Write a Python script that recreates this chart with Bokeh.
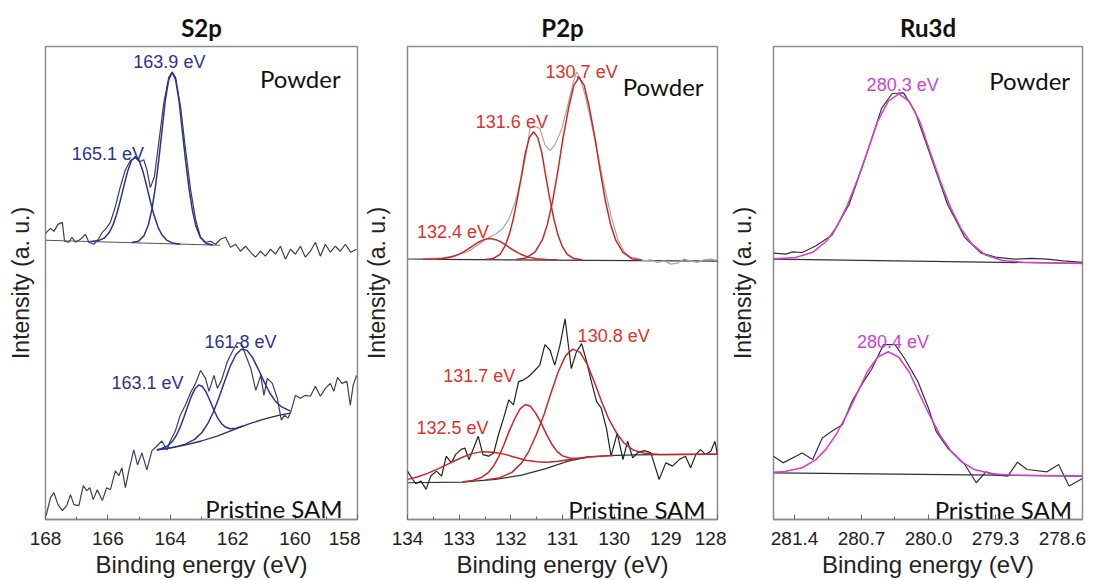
from bokeh.plotting import figure
from bokeh.layouts import row
from bokeh.models import Range1d, FixedTicker, Label, PrintfTickFormatter
from bokeh.embed import file_html
from bokeh.resources import INLINE

# ---------------- S2p ----------------
s2p_ticks = [168, 166, 164, 162, 160, 158]
s2p_minor = [167, 165, 163, 161, 159]

s2p_top_raw_e = [168.00,167.84,167.73,167.60,167.46,167.39,167.25,167.15,167.04,166.88,166.72,166.61,166.45,166.29,166.18,166.08,165.92,165.76,165.60,165.44,165.28,165.12,164.98,164.85,164.75,164.64,164.51,164.37,164.21,164.05,163.94,163.83,163.67,163.51,163.35,163.19,163.03,162.87,162.71,162.55,162.39,162.23,162.07,161.91,161.75,161.59,161.43,161.27,161.11,160.95,160.79,160.63,160.47,160.31,160.15,159.99,159.83,159.67,159.51,159.35,159.19,159.03,158.87,158.71,158.55,158.39,158.22,158.03]
s2p_top_raw_y = [286,291,288,295,297,278,277,282,277,280,285,277,275,281,287,290,297,313,333,350,359,362,358,360,350,332,343,377,417,443,448,443,413,370,330,300,282,277,278,275,280,282,272,275,268,273,267,262,268,263,270,265,273,260,270,265,273,262,268,277,263,275,267,273,268,275,267,270]
s2p_top_base_e = [168.0, 162.4]
s2p_top_base_y = [279, 274]
s2p_top_fit_1639_e = [165.24,165.02,164.84,164.70,164.59,164.48,164.37,164.26,164.16,164.05,163.94,163.83,163.72,163.62,163.51,163.40,163.29,163.18,163.04,162.86,162.64]
s2p_top_fit_1639_y = [276.7,278.1,283.7,294.9,310.1,331.9,359.9,390.9,419.9,440.7,448.2,440.5,419.5,390.3,359.1,330.9,308.9,293.5,282.0,276.1,274.3]
s2p_top_fit_1651_e = [166.56,166.32,166.12,165.96,165.84,165.72,165.60,165.48,165.36,165.24,165.12,165.00,164.88,164.76,164.64,164.52,164.40,164.28,164.12,163.92,163.68]
s2p_top_fit_1651_y = [277.7,278.4,281.1,286.7,294.2,305.2,319.2,334.7,349.1,359.6,363.3,359.4,348.7,334.0,318.3,304.1,292.8,285.1,279.2,276.2,275.1]

s2p_bot_raw_e = [167.98,167.84,167.73,167.60,167.46,167.32,167.20,167.09,166.93,166.79,166.68,166.58,166.47,166.34,166.18,166.04,165.92,165.76,165.65,165.55,165.44,165.33,165.17,165.05,164.91,164.75,164.59,164.43,164.27,164.11,164.00,163.84,163.68,163.52,163.36,163.19,163.03,162.87,162.76,162.60,162.49,162.36,162.17,162.01,161.85,161.72,161.58,161.42,161.26,161.10,161.00,160.89,160.73,160.57,160.44,160.34,160.23,160.13,159.99,159.83,159.67,159.51,159.35,159.19,159.03,158.87,158.76,158.64,158.50,158.34,158.23,158.14,158.03]
s2p_bot_raw_y = [2,20,25,13,7,12,23,13,12,32,27,30,18,28,17,30,28,47,42,50,30,47,68,53,65,48,67,72,77,68,77,87,103,113,125,135,148,140,127,143,130,138,157,167,176,175,163,150,128,143,123,140,135,120,98,103,100,107,123,120,123,122,132,122,130,135,127,141,135,137,113,133,143]
s2p_bot_base_e = [164.43,164.00,163.50,163.00,162.50,162.00,161.50,161.00,160.50,160.15]
s2p_bot_base_y = [68,70,73,77,82,88,94,99,103,105]
s2p_bot_fit_1631_e = [164.43,164.29,164.09,163.93,163.81,163.69,163.57,163.45,163.33,163.21,163.09,162.97,162.85,162.73,162.61,162.49,162.37,162.25,162.09,161.89,161.65]
s2p_bot_fit_1631_y = [68.2,69.3,72.1,76.7,82.5,90.4,100.4,111.3,121.6,129.5,133.3,131.8,126.1,117.7,108.7,100.6,94.9,91.3,89.4,89.9,92.3]
s2p_bot_fit_1618_e = [164.43,163.88,163.52,163.22,162.98,162.80,162.62,162.44,162.26,162.08,161.90,161.72,161.54,161.36,161.18,161.00,160.82,160.64,160.46,160.22,160.15]
s2p_bot_fit_1618_y = [68.0,70.6,73.8,78.6,85.8,94.4,106.2,120.7,136.9,152.2,163.8,169.4,168.2,160.7,149.4,137.0,125.8,117.3,111.9,108.0,107.5]

# ---------------- P2p ----------------
p2p_ticks = [134, 133, 132, 131, 130, 129, 128]
p2p_minor = [133.5, 132.5, 131.5, 130.5, 129.5, 128.5]

p2p_top_raw_e = [134.00,133.58,133.33,133.07,132.81,132.62,132.43,132.30,132.17,132.04,131.92,131.79,131.69,131.63,131.53,131.44,131.34,131.24,131.15,131.02,130.89,130.79,130.73,130.67,130.57,130.44,130.31,130.19,130.06,129.93,129.80,129.67,129.54,129.42,129.29,129.16,129.03,128.90,128.78,128.65,128.52,128.39,128.26,128.13,128.02]
p2p_top_raw_y = [260.0,260.7,261.3,263.3,268.3,275.0,281.7,285.0,290.0,300.0,316.7,343.3,370.0,391.7,393.3,391.7,375.0,369.3,375.0,390.0,416.7,438.3,448.3,443.3,426.7,396.7,363.3,333.3,303.3,280.0,266.7,261.7,260.7,258.3,259.3,256.7,258.3,255.0,256.0,260.0,258.3,256.7,259.3,260.0,259.0]
p2p_top_base_e = [134.0, 128.0]
p2p_top_base_y = [260, 258]
p2p_top_fit_1307_e = [131.90,131.70,131.53,131.39,131.29,131.19,131.09,130.99,130.88,130.78,130.68,130.58,130.48,130.37,130.27,130.17,130.07,129.97,129.83,129.66,129.46]
p2p_top_fit_1307_y = [259.6,261.2,267.3,279.3,295.5,318.9,348.6,381.7,412.6,434.8,442.9,434.8,412.5,381.6,348.5,318.7,295.2,279.1,266.9,260.5,258.8]
p2p_top_fit_1316_e = [132.50,132.34,132.21,132.11,132.03,131.95,131.87,131.79,131.72,131.64,131.56,131.48,131.40,131.33,131.25,131.17,131.09,131.01,130.91,130.78,130.62]
p2p_top_fit_1316_y = [259.6,260.6,264.9,273.4,284.7,301.1,322.0,345.2,366.9,382.5,388.2,382.5,366.9,345.2,322.0,301.1,284.7,273.4,264.9,260.6,259.4]
p2p_top_fit_1324_e = [133.70,133.48,133.30,133.16,133.05,132.94,132.83,132.72,132.62,132.51,132.40,132.29,132.18,132.08,131.97,131.86,131.75,131.64,131.50,131.32,131.10]
p2p_top_fit_1324_y = [259.9,260.0,260.7,262.1,264.0,266.6,270.0,273.8,277.3,279.9,280.7,279.6,277.0,273.5,269.7,266.3,263.7,261.8,260.4,259.7,259.4]

p2p_bot_raw_e = [134.00,133.92,133.84,133.74,133.64,133.55,133.44,133.34,133.25,133.15,133.07,132.97,132.89,132.81,132.72,132.63,132.54,132.43,132.33,132.24,132.14,132.04,131.95,131.85,131.76,131.66,131.56,131.44,131.34,131.24,131.15,131.05,130.95,130.83,130.73,130.63,130.54,130.44,130.34,130.25,130.15,130.06,129.94,129.83,129.74,129.64,129.55,129.42,129.29,129.13,129.00,128.87,128.74,128.62,128.52,128.42,128.33,128.23,128.13,128.05,128.00]
p2p_bot_raw_y = [46.7,40,34,36.7,28.3,41.7,46.7,41.7,61.7,55,63.3,68.3,70,58.3,70,81.7,63.3,61.7,65,83.3,100,118.3,113.3,136.7,138.3,141.7,146.7,153.3,174,168.3,153.3,173.3,200,150,166.7,175,158.3,136.7,116.7,110,90,61.7,85,58.3,76.7,60,65,67.3,65,38.3,55,51.7,58.3,61.7,50,63.3,68.3,63.3,66.7,76.7,63.3]
p2p_bot_base_e = [134.00,132.94,132.30,131.79,131.34,130.89,130.51,130.12,129.61,128.00]
p2p_bot_base_y = [35,35.7,38.3,42.7,49,56.7,60.7,62.3,63,63.7]
p2p_bot_fit_1308_e = [132.49,132.21,131.98,131.79,131.65,131.51,131.36,131.22,131.08,130.94,130.80,130.66,130.52,130.38,130.24,130.10,129.95,129.81,129.63,129.39,129.11,128.00]
p2p_bot_fit_1308_y = [37.7,40.1,45.4,55.0,66.9,83.0,103.2,125.7,146.9,162.9,169.5,166.2,154.2,135.9,116.3,98.7,84.7,75.0,67.9,64.3,63.4,63.7]
p2p_bot_fit_1317_e = [132.94,132.74,132.57,132.43,132.33,132.23,132.13,132.03,131.92,131.82,131.72,131.62,131.52,131.41,131.31,131.21,131.11,131.01,130.87,130.70,130.50]
p2p_bot_fit_1317_y = [35.8,37.3,40.3,45.5,52.1,61.6,73.7,87.2,99.9,109.3,113.7,112.0,105.0,94.7,83.6,74.0,66.8,62.3,59.9,59.4,60.8]
p2p_bot_fit_1325_e = [134.00,133.81,133.60,133.39,133.18,132.97,132.76,132.55,132.34,132.13,131.92,131.71,131.50,131.29,131.08,130.80,130.45,130.03]
p2p_bot_fit_1325_y = [38.4,40.8,44.7,49.5,54.8,59.9,64.3,66.3,65.7,63.8,60.7,57.6,56.0,55.5,56.6,58.8,61.2,62.4]

# ---------------- Ru3d ----------------
ru_ticks = [281.4, 280.7, 280.0, 279.3, 278.6]
ru_minor = [281.05, 280.35, 279.65, 278.95]

ru_top_raw_e = [281.62,281.49,281.42,281.32,281.18,281.01,280.83,280.66,280.49,280.38,280.26,280.14,279.97,279.80,279.62,279.45,279.28,279.10,278.93,278.76,278.59,278.39]
ru_top_raw_y = [266,265,267.3,266.7,273.3,284,315,361.7,411.7,426.7,427.3,408.3,361.7,315,281.7,266,261.7,260,260.7,260,258.3,256.7]
ru_top_base_e = [281.62, 278.39]
ru_top_base_y = [260, 255.7]
ru_top_fit_2803_e = [281.61,281.39,281.21,281.07,280.96,280.85,280.74,280.63,280.53,280.42,280.31,280.20,280.09,279.99,279.88,279.77,279.66,279.55,279.41,279.23,279.01,278.39]
ru_top_fit_2803_y = [260.3,261.6,266.9,277.8,292.4,313.6,340.6,370.8,398.8,419.0,426.3,418.7,398.3,369.9,339.5,312.1,290.7,275.7,264.5,258.7,256.8,255.7]

ru_bot_raw_e = [281.62,281.52,281.32,281.21,281.11,281.01,280.90,280.80,280.69,280.59,280.47,280.35,280.25,280.11,280.00,279.92,279.80,279.62,279.50,279.40,279.28,279.17,279.07,278.97,278.76,278.64,278.53,278.39]
ru_bot_raw_y = [61.7,55,65,58.3,80,86.7,93.3,116.7,135,150,174,174,160,136.7,110,86.7,70,53.3,35,46,42.7,41.7,55.7,48.3,46,53.3,31.7,39.3]
ru_bot_base_e = [281.62, 278.39]
ru_bot_base_y = [45, 41.7]
ru_bot_fit_2804_e = [281.62,281.50,281.32,281.18,281.07,280.96,280.85,280.74,280.64,280.53,280.42,280.31,280.20,280.10,279.99,279.88,279.77,279.66,279.52,279.34,279.12,278.39]
ru_bot_fit_2804_y = [45.5,46.3,50.1,58.0,68.8,84.3,104.1,126.1,146.7,161.5,166.8,161.3,146.2,125.4,103.2,83.2,67.5,56.5,48.3,44.1,42.6,41.7]

SANS = "Liberation Sans"
HUMAN = "Lato"
BLUE = "#2e3192"
RED_LINE = "#c62828"
RED_TXT = "#e0312b"
MAG = "#d23fd2"
FRAME = "#8c8c8c"


def make_panel(title, xr, major, minor, fmt, width, bl, br, ylab_standoff):
    p = figure(width=width, height=580, x_range=Range1d(*xr), y_range=Range1d(-2, 474),
               output_backend="svg", toolbar_location=None, title=title,
               min_border_left=bl, min_border_right=br, min_border_top=46, min_border_bottom=58)
    p.title.align = "center"
    p.title.text_font = HUMAN
    p.title.text_font_style = "bold"
    p.title.text_font_size = "24px"
    p.title.text_color = "#111111"
    p.title.standoff = 10
    p.xgrid.visible = False
    p.ygrid.visible = False
    p.outline_line_color = FRAME
    p.outline_line_width = 1.5
    p.outline_line_alpha = 1.0
    p.background_fill_color = "white"
    p.border_fill_color = "white"

    xa = p.xaxis[0]
    xa.ticker = FixedTicker(ticks=major, minor_ticks=minor)
    xa.formatter = PrintfTickFormatter(format=fmt)
    xa.axis_line_color = FRAME
    xa.axis_line_width = 1.5
    xa.major_tick_in = 5
    xa.major_tick_out = 0
    xa.minor_tick_in = 3
    xa.minor_tick_out = 0
    xa.major_tick_line_color = "#666666"
    xa.minor_tick_line_color = "#666666"
    xa.major_label_text_font = SANS
    xa.major_label_text_font_size = "19px"
    xa.major_label_text_color = "#222222"
    xa.major_label_standoff = 12
    xa.axis_label = "Binding energy (eV)"
    xa.axis_label_text_font = SANS
    xa.axis_label_text_font_size = "24px"
    xa.axis_label_text_font_style = "normal"
    xa.axis_label_text_color = "#222222"
    xa.axis_label_standoff = 3

    ya = p.yaxis[0]
    ya.ticker = FixedTicker(ticks=[])
    ya.axis_line_color = None
    ya.major_tick_line_color = None
    ya.minor_tick_line_color = None
    ya.axis_label = "Intensity (a. u.)"
    ya.axis_label_text_font = SANS
    ya.axis_label_text_font_size = "23px"
    ya.axis_label_text_font_style = "normal"
    ya.axis_label_text_color = "#222222"
    ya.axis_label_standoff = ylab_standoff
    return p


def add_text(p, x, y, text, color, size, font, align):
    p.add_layout(Label(x=x, y=y, text=text, text_color=color, text_font_size=size,
                       text_font=font, text_align=align, text_baseline="alphabetic"))


# S2p panel
p1 = make_panel("S2p", (168, 158), s2p_ticks, s2p_minor, "%d", 360, 45, 3, 12)
p1.line(s2p_top_base_e, s2p_top_base_y, line_color="#555555", line_width=1)
p1.line(s2p_top_raw_e, s2p_top_raw_y, line_color="#3d3d55", line_width=1.2)
p1.line(s2p_top_fit_1651_e, s2p_top_fit_1651_y, line_color=BLUE, line_width=1.5)
p1.line(s2p_top_fit_1639_e, s2p_top_fit_1639_y, line_color=BLUE, line_width=1.5)
p1.line(s2p_bot_base_e, s2p_bot_base_y, line_color="#2a2a60", line_width=1.3)
p1.line(s2p_bot_raw_e, s2p_bot_raw_y, line_color="#3d3d60", line_width=1.2)
p1.line(s2p_bot_fit_1631_e, s2p_bot_fit_1631_y, line_color=BLUE, line_width=1.5)
p1.line(s2p_bot_fit_1618_e, s2p_bot_fit_1618_y, line_color=BLUE, line_width=1.5)
add_text(p1, 164.03, 458, "163.9 eV", BLUE, "18px", SANS, "center")
add_text(p1, 166.0, 366, "165.1 eV", BLUE, "18px", SANS, "center")
add_text(p1, 161.75, 177, "161.8 eV", BLUE, "18px", SANS, "center")
add_text(p1, 164.73, 135, "163.1 eV", BLUE, "18px", SANS, "center")
add_text(p1, 158.54, 442, "Powder", "#111111", "24px", HUMAN, "right")
add_text(p1, 158.48, 9, "Pristine SAM", "#111111", "24px", HUMAN, "right")

# P2p panel
p2 = make_panel("P2p", (134, 128), p2p_ticks, p2p_minor, "%d", 366, 45, 9, 18)
p2.line(p2p_top_base_e, p2p_top_base_y, line_color="#333333", line_width=1.2)
p2.line(p2p_top_raw_e, p2p_top_raw_y, line_color="#a8a8a8", line_width=1.2)
p2.line(p2p_top_fit_1324_e, p2p_top_fit_1324_y, line_color=RED_LINE, line_width=1.5)
p2.line(p2p_top_fit_1316_e, p2p_top_fit_1316_y, line_color=RED_LINE, line_width=1.5)
p2.line(p2p_top_fit_1307_e, p2p_top_fit_1307_y, line_color=RED_LINE, line_width=1.5)
p2.line(p2p_bot_base_e, p2p_bot_base_y, line_color="#333333", line_width=1.2)
p2.line(p2p_bot_raw_e, p2p_bot_raw_y, line_color="#222222", line_width=1.2)
p2.line(p2p_bot_fit_1325_e, p2p_bot_fit_1325_y, line_color=RED_LINE, line_width=1.5)
p2.line(p2p_bot_fit_1317_e, p2p_bot_fit_1317_y, line_color=RED_LINE, line_width=1.5)
p2.line(p2p_bot_fit_1308_e, p2p_bot_fit_1308_y, line_color=RED_LINE, line_width=1.5)
add_text(p2, 130.63, 448, "130.7 eV", RED_TXT, "18px", SANS, "center")
add_text(p2, 131.98, 398, "131.6 eV", RED_TXT, "18px", SANS, "center")
add_text(p2, 133.12, 287, "132.4 eV", RED_TXT, "18px", SANS, "center")
add_text(p2, 130.01, 183, "130.8 eV", RED_TXT, "18px", SANS, "center")
add_text(p2, 132.61, 142, "131.7 eV", RED_TXT, "18px", SANS, "center")
add_text(p2, 133.13, 90, "132.5 eV", RED_TXT, "18px", SANS, "center")
add_text(p2, 128.27, 434, "Powder", "#111111", "24px", HUMAN, "right")
add_text(p2, 128.23, 8, "Pristine SAM", "#111111", "24px", HUMAN, "right")

# Ru3d panel
p3 = make_panel("Ru3d", (281.62, 278.39), ru_ticks, ru_minor, "%.1f", 363, 45, 7, 18)
p3.line(ru_top_base_e, ru_top_base_y, line_color="#333333", line_width=1.2)
p3.line(ru_top_raw_e, ru_top_raw_y, line_color="#333333", line_width=1.2)
p3.line(ru_top_fit_2803_e, ru_top_fit_2803_y, line_color=MAG, line_width=1.5)
p3.line(ru_bot_base_e, ru_bot_base_y, line_color="#333333", line_width=1.2)
p3.line(ru_bot_raw_e, ru_bot_raw_y, line_color="#333333", line_width=1.2)
p3.line(ru_bot_fit_2804_e, ru_bot_fit_2804_y, line_color=MAG, line_width=1.5)
add_text(p3, 280.27, 435, "280.3 eV", MAG, "18px", SANS, "center")
add_text(p3, 280.37, 177, "280.4 eV", MAG, "18px", SANS, "center")
add_text(p3, 278.52, 440, "Powder", "#111111", "24px", HUMAN, "right")
add_text(p3, 278.50, 8, "Pristine SAM", "#111111", "24px", HUMAN, "right")

layout = row(p1, p2, p3)
open("out.html", "w").write(file_html(layout, INLINE))
